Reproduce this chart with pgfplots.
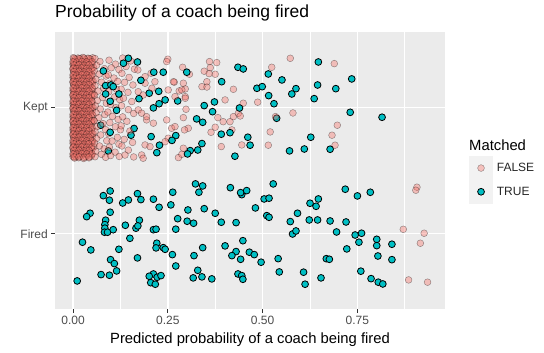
\documentclass[border=0pt]{standalone}
\usepackage{fontspec}
\setmainfont{Liberation Sans}
\usepackage{pgfplots}
\pgfplotsset{compat=1.18}
\definecolor{panel}{HTML}{EBEBEB}
\definecolor{fpink}{HTML}{F8766D}
\definecolor{tcyan}{HTML}{00BFC4}
\definecolor{tickgray}{HTML}{4D4D4D}
\definecolor{tickline}{HTML}{333333}
\definecolor{legkey}{HTML}{F2F2F2}
\pgfplotsset{
  keyimg/.style={legend image code/.code={
    \fill[legkey] (0pt,-11.65pt) rectangle (23.3pt,11.65pt);
    \draw[only marks,mark repeat=2,mark phase=2] plot coordinates {(0pt,0pt) (11.65pt,0pt) (23.3pt,0pt)};}},
  pinkpt/.style={only marks, mark=*, mark size=3.4pt, keyimg,
    mark options={fill=fpink, fill opacity=0.4, draw=black, draw opacity=0.4, line width=0.45pt}},
  cyanpt/.style={only marks, mark=*, mark size=3.4pt, keyimg,
    mark options={fill=tcyan, draw=black, line width=0.8pt}},
}
\begin{document}
\begin{tikzpicture}
\useasboundingbox (0,0) rectangle (544pt,353pt);
\fill[white] (0,0) rectangle (544pt,353pt);
\begin{axis}[
  at={(55pt,44pt)}, anchor=south west, scale only axis,
  width=390pt, height=277pt,
  xmin=-0.0475, xmax=0.981, ymin=0.405, ymax=2.595,
  axis background/.style={fill=panel},
  axis line style={draw=none},
  tick pos=left, tick align=outside,
  xtick={0,0.25,0.5,0.75}, xticklabels={0.00,0.25,0.50,0.75},
  minor xtick={0.125,0.375,0.625,0.875},
  ytick={1,2}, yticklabels={Fired,Kept},
  grid=both,
  major grid style={white, line width=1.4pt},
  minor grid style={white, line width=0.7pt},
  major tick length=3.7pt, minor tick length=0pt,
  tick style={tickline, line width=0.8pt},
  ticklabel style={font=\fontsize{12}{14}\selectfont, text=tickgray},
  title={Probability of a coach being fired},
  title style={at={(0,1)}, anchor=base west, yshift=8.5pt, inner sep=0pt, font=\fontsize{17.5}{20}\selectfont},
  xlabel={Predicted probability of a coach being fired},
  xlabel style={at={(0.5,0)}, anchor=base, yshift=-34.5pt, inner sep=0pt, font=\fontsize{14.8}{17}\selectfont},
  legend style={at={(1.0615,0.5523)}, anchor=north west, draw=none, fill=none, inner sep=0pt,
    row sep=0pt, column sep=4pt, nodes={inner sep=0pt, font=\fontsize{12}{14}\selectfont, text=black!85}},
  legend cell align=left,
]
% TRUE points partly covered by FALSE points
\addplot[cyanpt, forget plot] coordinates {
(0.238,2.277) (0.226,2.126) (0.201,2.111) (0.368,1.965) (0.073,1.858) (0.153,1.779)
(0.093,1.655) (0.017,1.939) (0.537,1.913) (0.276,2.050) (0.161,1.832)
};
% FALSE, dense cluster near zero
\addplot[pinkpt, forget plot] coordinates {
(0.001,2.392) (0.013,2.389) (0.026,2.394) (0.039,2.388) (0.052,2.391)
(0.004,2.366) (0.018,2.369) (0.031,2.363) (0.045,2.367)
(0.000,2.340) (0.009,2.343) (0.022,2.337) (0.035,2.342) (0.049,2.338)
(0.002,2.313) (0.015,2.310) (0.028,2.316) (0.041,2.311) (0.054,2.315)
(0.001,2.287) (0.011,2.290) (0.024,2.284) (0.037,2.289) (0.050,2.285)
(0.003,2.261) (0.017,2.264) (0.030,2.258) (0.044,2.262)
(0.000,2.235) (0.008,2.232) (0.021,2.238) (0.034,2.233) (0.047,2.237)
(0.002,2.209) (0.014,2.212) (0.027,2.206) (0.040,2.211) (0.053,2.207)
(0.001,2.183) (0.012,2.180) (0.025,2.186) (0.038,2.181) (0.051,2.185)
(0.004,2.157) (0.018,2.160) (0.032,2.154) (0.046,2.159)
(0.000,2.131) (0.009,2.128) (0.022,2.134) (0.036,2.129) (0.049,2.133)
(0.002,2.105) (0.015,2.108) (0.028,2.102) (0.042,2.107) (0.055,2.103)
(0.001,2.079) (0.011,2.076) (0.024,2.082) (0.037,2.077) (0.050,2.081)
(0.003,2.053) (0.017,2.056) (0.030,2.050) (0.044,2.055)
(0.000,2.027) (0.008,2.024) (0.021,2.030) (0.034,2.025) (0.048,2.029)
(0.002,2.001) (0.014,2.004) (0.027,1.998) (0.040,2.003) (0.053,1.999)
(0.001,1.975) (0.012,1.972) (0.025,1.978) (0.038,1.973) (0.051,1.977)
(0.004,1.949) (0.018,1.952) (0.032,1.946) (0.046,1.951)
(0.000,1.923) (0.009,1.920) (0.022,1.926) (0.036,1.921) (0.049,1.925)
(0.002,1.897) (0.015,1.900) (0.028,1.894) (0.042,1.899) (0.055,1.895)
(0.001,1.871) (0.011,1.868) (0.024,1.874) (0.037,1.869) (0.050,1.873)
(0.003,1.845) (0.017,1.848) (0.030,1.842) (0.044,1.847)
(0.000,1.819) (0.008,1.816) (0.021,1.822) (0.034,1.817) (0.048,1.821)
(0.002,1.793) (0.014,1.796) (0.027,1.790) (0.040,1.795) (0.053,1.791)
(0.001,1.767) (0.012,1.764) (0.025,1.770) (0.038,1.765) (0.051,1.769)
(0.004,1.741) (0.018,1.744) (0.032,1.738) (0.046,1.743)
(0.000,1.715) (0.009,1.712) (0.022,1.718) (0.036,1.713) (0.049,1.717)
(0.002,1.689) (0.015,1.692) (0.028,1.686) (0.042,1.691) (0.055,1.687)
(0.001,1.663) (0.011,1.660) (0.024,1.666) (0.037,1.661) (0.050,1.665)
(0.003,1.637) (0.017,1.640) (0.030,1.634) (0.044,1.639)
(0.000,1.611) (0.008,1.608) (0.021,1.614) (0.034,1.609) (0.048,1.613)
(0.006,2.379) (0.019,2.382) (0.032,2.376) (0.046,2.380)
(0.001,2.353) (0.011,2.350) (0.025,2.356) (0.038,2.351) (0.051,2.355)
(0.005,2.327) (0.016,2.330) (0.029,2.324) (0.043,2.328)
(0.000,2.300) (0.008,2.303) (0.021,2.297) (0.034,2.302) (0.047,2.298)
(0.006,2.274) (0.019,2.277) (0.031,2.271) (0.044,2.276)
(0.001,2.248) (0.010,2.245) (0.024,2.251) (0.037,2.246) (0.050,2.250)
(0.004,2.222) (0.015,2.225) (0.028,2.219) (0.042,2.224)
(0.000,2.196) (0.007,2.193) (0.020,2.199) (0.033,2.194) (0.046,2.198)
(0.006,2.170) (0.019,2.173) (0.031,2.167) (0.045,2.172)
(0.001,2.144) (0.011,2.141) (0.025,2.147) (0.039,2.142) (0.052,2.146)
(0.005,2.118) (0.016,2.121) (0.029,2.115) (0.043,2.120)
(0.000,2.092) (0.008,2.089) (0.021,2.095) (0.035,2.090) (0.048,2.094)
(0.006,2.066) (0.019,2.069) (0.031,2.063) (0.044,2.068)
(0.001,2.040) (0.010,2.037) (0.024,2.043) (0.037,2.038) (0.050,2.042)
(0.004,2.014) (0.015,2.017) (0.028,2.011) (0.042,2.016)
(0.000,1.988) (0.007,1.985) (0.020,1.991) (0.033,1.986) (0.046,1.990)
(0.006,1.962) (0.019,1.965) (0.031,1.959) (0.045,1.964)
(0.001,1.936) (0.011,1.933) (0.025,1.939) (0.039,1.934) (0.052,1.938)
(0.005,1.910) (0.016,1.913) (0.029,1.907) (0.043,1.912)
(0.000,1.884) (0.008,1.881) (0.021,1.887) (0.035,1.882) (0.048,1.886)
(0.006,1.858) (0.019,1.861) (0.031,1.855) (0.044,1.860)
(0.001,1.832) (0.010,1.829) (0.024,1.835) (0.037,1.830) (0.050,1.834)
(0.004,1.806) (0.015,1.809) (0.028,1.803) (0.042,1.808)
(0.000,1.780) (0.007,1.777) (0.020,1.783) (0.033,1.778) (0.046,1.782)
(0.006,1.754) (0.019,1.757) (0.031,1.751) (0.045,1.756)
(0.001,1.728) (0.011,1.725) (0.025,1.731) (0.039,1.726) (0.052,1.730)
(0.005,1.702) (0.016,1.705) (0.029,1.699) (0.043,1.704)
(0.000,1.676) (0.008,1.673) (0.021,1.679) (0.035,1.674) (0.048,1.678)
(0.006,1.650) (0.019,1.653) (0.031,1.647) (0.044,1.652)
(0.001,1.624) (0.010,1.621) (0.024,1.627) (0.037,1.622) (0.050,1.626)
(0.004,1.598) (0.015,1.601) (0.028,1.595) (0.042,1.600)
(0.003,2.386) (0.016,2.384) (0.029,2.388) (0.042,2.385)
(0.000,2.360) (0.010,2.358) (0.023,2.362) (0.036,2.359) (0.050,2.361)
(0.003,2.334) (0.016,2.336) (0.029,2.332) (0.042,2.335)
(0.000,2.308) (0.010,2.306) (0.023,2.310) (0.036,2.307) (0.050,2.309)
(0.003,2.282) (0.016,2.284) (0.029,2.280) (0.042,2.283)
(0.000,2.256) (0.010,2.254) (0.023,2.258) (0.036,2.255) (0.050,2.257)
(0.003,2.230) (0.016,2.232) (0.029,2.228) (0.042,2.231)
(0.000,2.204) (0.010,2.202) (0.023,2.206) (0.036,2.203) (0.050,2.205)
(0.003,2.178) (0.016,2.180) (0.029,2.176) (0.042,2.179)
(0.000,2.152) (0.010,2.150) (0.023,2.154) (0.036,2.151) (0.050,2.153)
(0.003,2.126) (0.016,2.128) (0.029,2.124) (0.042,2.127)
(0.000,2.100) (0.010,2.098) (0.023,2.102) (0.036,2.099) (0.050,2.101)
(0.003,2.074) (0.016,2.076) (0.029,2.072) (0.042,2.075)
(0.000,2.048) (0.010,2.046) (0.023,2.050) (0.036,2.047) (0.050,2.049)
(0.003,2.022) (0.016,2.024) (0.029,2.020) (0.042,2.023)
(0.000,1.996) (0.010,1.994) (0.023,1.998) (0.036,1.995) (0.050,1.997)
(0.003,1.970) (0.016,1.972) (0.029,1.968) (0.042,1.971)
(0.000,1.944) (0.010,1.942) (0.023,1.946) (0.036,1.943) (0.050,1.945)
(0.003,1.918) (0.016,1.920) (0.029,1.916) (0.042,1.919)
(0.000,1.892) (0.010,1.890) (0.023,1.894) (0.036,1.891) (0.050,1.893)
(0.003,1.866) (0.016,1.868) (0.029,1.864) (0.042,1.867)
(0.000,1.840) (0.010,1.838) (0.023,1.842) (0.036,1.839) (0.050,1.841)
(0.003,1.814) (0.016,1.816) (0.029,1.812) (0.042,1.815)
(0.000,1.788) (0.010,1.786) (0.023,1.790) (0.036,1.787) (0.050,1.789)
(0.003,1.762) (0.016,1.764) (0.029,1.760) (0.042,1.763)
(0.000,1.736) (0.010,1.734) (0.023,1.738) (0.036,1.735) (0.050,1.737)
(0.003,1.710) (0.016,1.712) (0.029,1.708) (0.042,1.711)
(0.000,1.684) (0.010,1.682) (0.023,1.686) (0.036,1.683) (0.050,1.685)
(0.003,1.658) (0.016,1.660) (0.029,1.656) (0.042,1.659)
(0.000,1.632) (0.010,1.630) (0.023,1.634) (0.036,1.631) (0.050,1.633)
(0.003,1.606) (0.016,1.608) (0.029,1.604) (0.042,1.607)
};
% FALSE, spread
\addplot[pinkpt] coordinates {
(0.058,2.385) (0.071,2.362) (0.062,2.331) (0.083,2.305) (0.056,2.288) (0.069,2.262)
(0.087,2.247) (0.060,2.221) (0.075,2.198) (0.058,2.171) (0.081,2.152) (0.066,2.128)
(0.057,2.094) (0.078,2.077) (0.064,2.052) (0.088,2.031) (0.059,2.011) (0.072,1.986)
(0.061,1.957) (0.084,1.942) (0.068,1.918) (0.056,1.893) (0.079,1.871) (0.063,1.846)
(0.086,1.823) (0.058,1.808) (0.073,1.781) (0.062,1.752) (0.089,1.735) (0.057,1.716)
(0.070,1.694) (0.082,1.671) (0.060,1.652) (0.075,1.628) (0.058,1.609) (0.086,1.604)
(0.095,2.372) (0.112,2.341) (0.101,2.312) (0.121,2.298) (0.093,2.256) (0.108,2.231)
(0.118,2.205) (0.097,2.189) (0.115,2.142) (0.094,2.121) (0.110,2.083) (0.123,2.061)
(0.099,2.022) (0.113,1.997) (0.092,1.962) (0.104,1.928) (0.119,1.904) (0.097,1.878)
(0.112,1.846) (0.125,1.822) (0.094,1.791) (0.117,1.762) (0.103,1.733) (0.121,1.708)
(0.096,1.684) (0.111,1.645) (0.099,1.618) (0.122,1.611)
(0.131,2.389) (0.152,2.366) (0.140,2.322) (0.162,2.301) (0.129,2.268) (0.148,2.236)
(0.136,2.197) (0.158,2.176) (0.127,2.143) (0.145,2.118) (0.133,2.071) (0.155,2.045)
(0.128,2.012) (0.146,1.981) (0.160,1.951) (0.131,1.924) (0.142,1.889) (0.127,1.853)
(0.150,1.812) (0.135,1.746) (0.157,1.722) (0.129,1.694) (0.146,1.661) (0.137,1.622)
(0.160,1.607)
(0.250,2.380) (0.247,2.361) (0.289,2.316) (0.307,2.261) (0.360,2.361) (0.379,2.353)
(0.362,2.313) (0.346,2.285) (0.359,2.266) (0.375,2.261) (0.267,2.198) (0.353,2.160)
(0.423,2.142) (0.251,2.137) (0.280,2.129) (0.296,2.145) (0.206,2.269) (0.190,2.242)
(0.171,2.295) (0.216,2.202) (0.190,2.190) (0.208,2.150) (0.172,2.123) (0.185,2.097)
(0.269,2.084) (0.296,2.084) (0.296,2.071) (0.401,2.058) (0.194,1.900) (0.172,1.979)
(0.181,1.953) (0.291,1.918) (0.304,1.834) (0.375,1.842) (0.364,1.802) (0.260,1.834)
(0.269,1.847) (0.382,1.918) (0.414,1.886) (0.423,1.926) (0.436,1.952) (0.251,1.755)
(0.243,1.728) (0.190,1.702) (0.203,1.689) (0.181,1.623) (0.185,1.597) (0.278,1.602)
(0.391,1.689) (0.445,1.702) (0.291,1.676) (0.287,1.628) (0.298,1.984) (0.265,2.202)
(0.287,2.137) (0.291,2.190) (0.340,2.163) (0.353,2.202) (0.419,1.821) (0.396,1.886)
(0.294,1.821) (0.247,1.900) (0.212,1.874) (0.194,1.926)
(0.573,2.387) (0.524,2.316) (0.689,2.345) (0.449,2.032) (0.487,2.040) (0.441,1.931)
(0.534,1.926) (0.580,1.955) (0.520,1.805) (0.515,1.700) (0.697,1.858) (0.683,1.779)
(0.691,1.700)
(0.907,1.368) (0.904,1.344) (0.871,1.035) (0.926,1.004) (0.916,0.925) (0.885,0.635)
(0.935,0.617)
};
\addlegendentry{FALSE}
% TRUE
\addplot[cyanpt] coordinates {
(0.146,2.387) (0.133,2.348) (0.170,2.358) (0.080,2.287) (0.213,2.277) (0.300,2.277)
(0.179,2.213) (0.392,2.202) (0.086,2.171) (0.100,2.176) (0.106,2.163) (0.121,2.105)
(0.086,2.105) (0.174,2.068) (0.098,2.047) (0.243,2.058) (0.227,2.028) (0.212,1.995)
(0.346,2.013) (0.373,2.042) (0.439,1.994) (0.115,1.976) (0.326,1.908) (0.342,1.881)
(0.098,1.802) (0.206,1.768) (0.271,1.776) (0.261,1.738) (0.391,1.787) (0.414,1.799)
(0.228,1.700) (0.340,1.713) (0.309,1.657) (0.302,1.631) (0.329,1.662) (0.221,1.641)
(0.427,1.613) (0.435,2.316) (0.449,2.303) (0.461,1.763) (0.467,1.700) (0.647,2.358)
(0.515,2.263) (0.551,2.216) (0.485,2.150) (0.499,2.163) (0.588,2.147) (0.577,2.105)
(0.645,2.176) (0.693,2.147) (0.735,2.224) (0.516,2.092) (0.530,2.028) (0.636,2.068)
(0.731,1.960) (0.815,1.921) (0.627,1.763) (0.571,1.655) (0.610,1.670) (0.678,1.668)
(0.323,1.394) (0.342,1.378) (0.332,1.328) (0.098,1.338) (0.080,1.301) (0.096,1.265)
(0.170,1.317) (0.179,1.270) (0.146,1.267) (0.131,1.243) (0.263,1.328) (0.212,1.273)
(0.258,1.228) (0.227,1.209) (0.415,1.364) (0.445,1.309) (0.442,1.325) (0.458,1.341)
(0.098,1.170) (0.045,1.162) (0.036,1.135) (0.303,1.188) (0.346,1.198) (0.375,1.162)
(0.276,1.119) (0.301,1.099) (0.318,1.083) (0.391,1.091) (0.430,1.088) (0.175,1.107)
(0.166,1.044) (0.171,1.062) (0.138,1.067) (0.086,1.107) (0.084,1.072) (0.084,1.044)
(0.083,1.012) (0.091,1.012) (0.106,1.032) (0.212,1.032) (0.219,1.036) (0.271,1.036)
(0.150,0.964) (0.025,0.933) (0.047,0.872) (0.121,0.877) (0.221,0.925) (0.219,0.888)
(0.238,0.890) (0.243,0.877) (0.262,0.835) (0.170,0.809) (0.099,0.795) (0.109,0.764)
(0.115,0.706) (0.074,0.677) (0.096,0.672) (0.271,0.745) (0.319,0.827) (0.342,0.890)
(0.401,0.904) (0.430,0.859) (0.419,0.827) (0.442,0.798) (0.448,0.945) (0.329,0.711)
(0.317,0.651) (0.340,0.659) (0.366,0.643) (0.212,0.682) (0.201,0.664) (0.222,0.656)
(0.232,0.669) (0.205,0.613) (0.217,0.601) (0.435,0.682) (0.445,0.669) (0.448,0.640)
(0.011,0.627)
(0.528,1.394) (0.504,1.275) (0.517,1.281) (0.481,1.204) (0.511,1.143) (0.517,1.130)
(0.573,1.096) (0.592,1.162) (0.625,1.241) (0.641,1.217) (0.647,1.275) (0.623,1.109)
(0.645,1.109) (0.678,1.101) (0.720,1.093) (0.718,1.352) (0.750,1.299) (0.784,1.328)
(0.579,0.998) (0.588,1.022) (0.695,1.014) (0.744,0.990) (0.761,1.004) (0.754,0.933)
(0.801,0.956) (0.801,0.906) (0.841,0.917) (0.465,0.854) (0.478,0.835) (0.496,0.775)
(0.541,0.803) (0.722,0.880) (0.668,0.803) (0.676,0.798) (0.804,0.824) (0.841,0.795)
(0.544,0.698) (0.608,0.696) (0.759,0.704) (0.654,0.651) (0.612,0.601) (0.786,0.645)
(0.805,0.617) (0.817,0.603)
};
\addlegendentry{TRUE}
\end{axis}
\node[anchor=west, inner sep=0pt, font=\fontsize{14.8}{17}\selectfont] at (469pt,208pt) {Matched};
\end{tikzpicture}
\end{document}
